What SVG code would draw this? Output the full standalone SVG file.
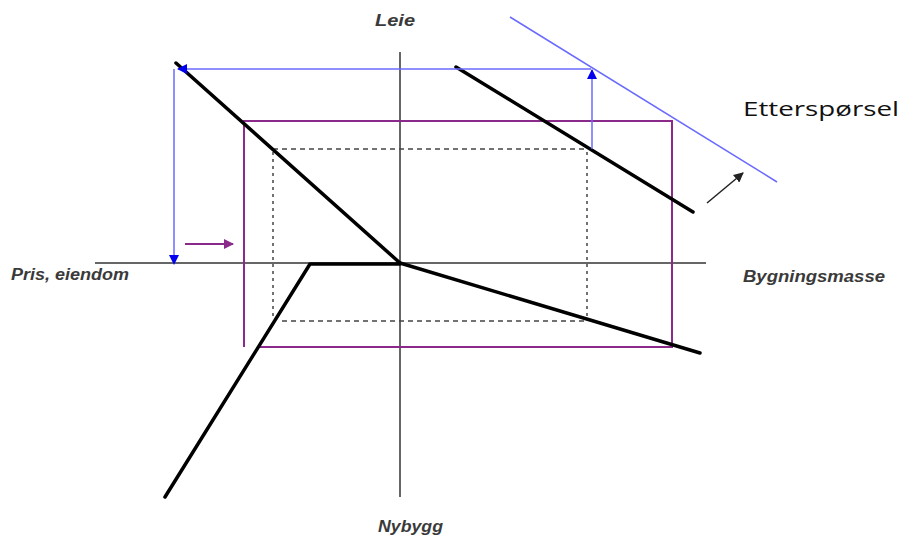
<svg xmlns="http://www.w3.org/2000/svg" width="903" height="540" viewBox="0 0 903 540">
<defs>
<style>
.axis{stroke:#333;stroke-width:1.5;fill:none}
.curve{stroke:#000;stroke-width:3.5;fill:none;stroke-linecap:round;stroke-linejoin:round}
.blue{stroke:#6a6aff;stroke-width:1.5;fill:none}
.purple{stroke:#8b2a8b;stroke-width:2;fill:none}
.dash{stroke:#444;stroke-width:1.5;stroke-dasharray:5,4;fill:none}
.dot{stroke:#444;stroke-width:1.5;stroke-dasharray:3,4;fill:none}
.lbl{font-family:"Liberation Sans",Arial,sans-serif;font-style:italic;font-size:16px;fill:#3a3a3a;font-weight:bold}
.lbl2{font-family:"Open Sans","Liberation Sans",sans-serif;font-size:20px;fill:#111}
</style>
<marker id="ab" viewBox="0 0 10 10" refX="9" refY="5" markerWidth="10" markerHeight="10" markerUnits="userSpaceOnUse" orient="auto"><path d="M0,0L10,5L0,10z" fill="#0000ee"/></marker>
<marker id="ap" viewBox="0 0 10 10" refX="9" refY="5" markerWidth="10" markerHeight="10" markerUnits="userSpaceOnUse" orient="auto"><path d="M0,0L10,5L0,10z" fill="#8b2a8b"/></marker>
<marker id="ak" viewBox="0 0 10 10" refX="9" refY="5" markerWidth="10" markerHeight="10" markerUnits="userSpaceOnUse" orient="auto"><path d="M0,0L10,5L0,10z" fill="#222"/></marker>
</defs>
<rect width="903" height="540" fill="#fff"/>
<g id="axes">
<line class="axis" x1="95" y1="263" x2="706" y2="263"/>
<line class="axis" x1="400" y1="52" x2="400" y2="497"/>
</g>
<g id="guides">
<polyline class="dash" points="273,149 587,149"/>
<line class="dot" x1="273" y1="152" x2="273" y2="320"/>
<line class="dash" x1="282" y1="321" x2="587" y2="321"/>
<line class="dot" x1="587" y1="152" x2="587" y2="320"/>
</g>
<g id="purple-frame">
<polyline class="purple" points="244,347 244,121 672,121 672,347 258,347"/>
</g>
<g id="curves">
<line class="curve" x1="176" y1="63" x2="400" y2="263"/>
<polyline class="curve" points="165,497 310,264 400,264"/>
<line class="curve" x1="400" y1="263" x2="700" y2="353"/>
<line class="curve" x1="456" y1="67" x2="693" y2="212"/>
</g>
<g id="demand-shift">
<line class="blue" x1="510" y1="17" x2="777" y2="182"/>
</g>
<g id="connectors">
<line class="blue" x1="591" y1="69" x2="178" y2="69" marker-end="url(#ab)"/>
<line class="blue" x1="174" y1="69" x2="174" y2="264" marker-end="url(#ab)"/>
<line class="blue" x1="592" y1="149" x2="592" y2="70" marker-end="url(#ab)"/>
<line class="purple" x1="185" y1="244" x2="233" y2="244" marker-end="url(#ap)"/>
<line stroke="#222" stroke-width="1.5" x1="707" y1="203" x2="743" y2="173" marker-end="url(#ak)"/>
</g>
<g id="labels">
<text class="lbl" x="375" y="26" textLength="40" lengthAdjust="spacingAndGlyphs">Leie</text>
<text class="lbl" x="11" y="280" textLength="118" lengthAdjust="spacingAndGlyphs">Pris, eiendom</text>
<text class="lbl" x="743" y="282" textLength="142" lengthAdjust="spacingAndGlyphs">Bygningsmasse</text>
<text class="lbl" x="378" y="532" textLength="65" lengthAdjust="spacingAndGlyphs">Nybygg</text>
<text class="lbl2" x="743" y="116" textLength="156" lengthAdjust="spacingAndGlyphs">Etterspørsel</text>
</g>
</svg>
